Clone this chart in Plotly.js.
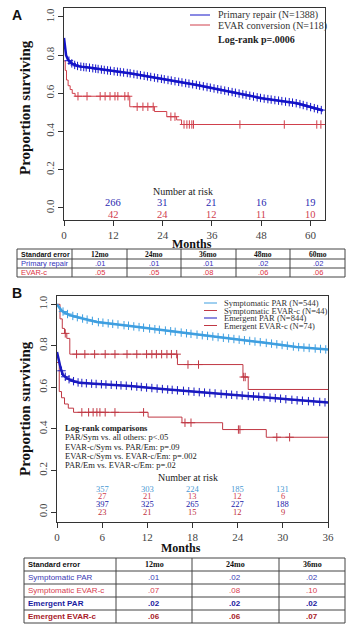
<!DOCTYPE html>
<html><head><meta charset="utf-8">
<script src="https://cdn.plot.ly/plotly-3.0.1.min.js"></script>
<style>html,body{margin:0;padding:0;background:#fff}</style>
</head><body><div id="chart" style="width:358px;height:631px"></div>
<script>
// ---------- Panel A data ----------
const aPrimaryT = [0, 0.2, 0.5, 1, 2, 3, 4, 6, 10, 16, 24, 32, 40.4, 48, 56.7, 63];
const aPrimaryS = [0.89, 0.84, 0.80, 0.775, 0.755, 0.745, 0.74, 0.735, 0.722, 0.705, 0.675, 0.645, 0.609, 0.575, 0.548, 0.51];
const aPrimaryCens = [1.2,1.9,2.6,3.3,4.1,4.8,5.4,6.2,7.0,7.7,8.3,9.1,9.8,10.6,11.3,12.2,13.0,13.7,14.5,15.4,16.1,17.0,17.8,18.6,19.5,20.3,21.1,22.0,22.8,23.7,24.4,25.3,26.1,27.0,27.9,28.7,29.6,30.4,31.3,32.2,33.0,33.9,34.8,35.6,36.5,37.4,38.2,39.1,40.0,40.9,41.7,42.6,43.5,44.3,45.2,46.1,47.0,47.8,48.7,49.6,50.4,51.3,52.2,53.0,53.9,54.8,55.6,56.5,57.4,58.2,59.1,60.0,60.9,61.7,62.6];
const aEvarT = [0, 0.3, 0.6, 1.0, 1.5, 2.0, 2.7, 16, 22, 25, 27.4, 28.6, 63];
const aEvarS = [0.77, 0.72, 0.67, 0.64, 0.62, 0.60, 0.585, 0.53, 0.505, 0.478, 0.461, 0.437, 0.437];
const aEvarCens = [3.4,5.6,8.8,10,11.2,12.4,13.1,14.8,15.6,17.8,19.2,20.4,21.7,26,27,29.2,29.9,30.5,31.1,31.5,42.8,53.6,61.5,62.5];
const aRiskMonths = [12,24,36,48,60];
const aRiskPrimary = [266,31,21,16,19];
const aRiskEvar = [42,24,12,11,10];
const aTicksX = [0,12,24,36,48,60];
const yTicks = [0,0.2,0.4,0.6,0.8,1.0];
const yTickText = ["0.0","0.2","0.4","0.6","0.8","1.0"];

// ---------- Panel B data ----------
const bSymParT = [0, 0.3, 0.6, 1, 1.7, 3, 5.3, 9.7, 14.1, 18.6, 23, 27.4, 31.8, 36];
const bSymParS = [1.0, 0.985, 0.97, 0.96, 0.948, 0.935, 0.915, 0.896, 0.875, 0.854, 0.835, 0.816, 0.795, 0.782];
const bSymParCens = [0.8,1.4,2.1,2.7,3.4,4.0,4.7,5.5,6.1,6.8,7.4,8.1,8.9,9.5,10.2,10.9,11.5,12.3,13.0,13.6,14.4,15.1,15.7,16.5,17.2,17.8,18.6,19.3,20.0,20.7,21.4,22.1,22.8,23.5,24.2,24.9,25.6,26.3,27.0,27.8,28.5,29.2,29.9,30.6,31.4,32.1,32.8,33.5,34.3,35.0,35.7];
const bSymEvarT = [0, 0.4, 0.7, 1.0, 1.3, 1.7, 16, 24.7, 25.4, 36];
const bSymEvarS = [1.0, 0.93, 0.884, 0.86, 0.836, 0.76, 0.71, 0.65, 0.59, 0.59];
const bSymEvarCens = [1.1,2.6,3.7,5.0,6.4,7.7,9.3,10.6,11.9,12.6,13.2,13.9,14.6,15.2,15.9,17.4,18.8,24.8,25.0];
const bEmParT = [0, 0.2, 0.5, 0.8, 1.3, 2, 3, 5, 7.5, 9.7, 14, 18.6, 23, 27.4, 31.8, 36];
const bEmParS = [0.77, 0.73, 0.69, 0.66, 0.645, 0.632, 0.622, 0.617, 0.612, 0.607, 0.592, 0.578, 0.565, 0.554, 0.538, 0.527];
const bEmParCens = [0.6,1.1,1.6,2.2,2.8,3.3,3.9,4.6,5.2,5.9,6.5,7.2,7.9,8.5,9.2,9.9,10.6,11.2,11.9,12.6,13.3,14.0,14.7,15.3,16.0,16.8,17.5,18.2,18.9,19.6,20.3,21.0,21.8,22.5,23.2,23.9,24.6,25.4,26.1,26.8,27.5,28.3,29.0,29.7,30.4,31.2,31.9,32.6,33.4,34.1,34.9,35.6];
const bEmEvarT = [0, 0.3, 0.6, 1.0, 1.5, 2.2, 12.1, 16.6, 22, 27.8, 36];
const bEmEvarS = [0.72, 0.58, 0.55, 0.52, 0.50, 0.48, 0.457, 0.43, 0.397, 0.36, 0.36];
const bEmEvarCens = [3.3,4.2,4.8,5.3,5.7,6.4,7.7,11.5,17.0,17.8,24.1,24.3,29.2,30.9];
const bRiskMonths = [6,12,18,24,30];
const bRiskSymPar = [357,303,224,185,131];
const bRiskSymEvar = [27,21,13,12,6];
const bRiskEmPar = [397,325,265,227,188];
const bRiskEmEvar = [23,21,15,12,9];
const bTicksX = [0,6,12,18,24,30,36];

// ---------- Tables ----------
const tableAHeader = ["Standard error","12mo","24mo","36mo","48mo","60mo"];
const tableARows = ["Primary repair","EVAR-c"];
const seAPrimary = [".01",".01",".01",".02",".02"];
const seAEvar = [".05",".05",".08",".06",".06"];
const tableBHeader = ["Standard error","12mo","24mo","36mo"];
const tableBRows = ["Symptomatic PAR","Symptomatic EVAR-c","Emergent PAR","Emergent EVAR-c"];
const seBSymPar = [".01",".02",".02"];
const seBSymEvar = [".07",".08",".10"];
const seBEmPar = [".02",".02",".02"];
const seBEmEvar = [".06",".06",".07"];

// ---------- styling ----------
const SERIF = "Liberation Serif, Times New Roman, serif";
const SANS = "Liberation Sans, Arial, sans-serif";
const W = 358, H = 631;
const px = v => v / W;
const py = v => 1 - v / H;
const cBlue = "#1414c8", cRed = "#d0404c", cLight = "#3f9fe0", cDark = "#1a1ac0", cRed2 = "#c03844";

function onCurve(ts, ss, t, step) {
  let i = 0;
  while (i < ts.length - 1 && ts[i + 1] <= t) i++;
  if (step || i === ts.length - 1) return ss[i];
  const f = (t - ts[i]) / (ts[i + 1] - ts[i]);
  return ss[i] + f * (ss[i + 1] - ss[i]);
}
function curve(ts, ss, color, xa, ya, shape, width) {
  return {x: ts, y: ss, xaxis: xa, yaxis: ya, type: "scatter", mode: "lines",
    line: {color: color, width: width, shape: shape}, hoverinfo: "skip", showlegend: false};
}
function cens(cs, ts, ss, color, xa, ya, step, size) {
  return {x: cs, y: cs.map(t => onCurve(ts, ss, t, step)), xaxis: xa, yaxis: ya, type: "scatter", mode: "markers",
    marker: {symbol: "cross-thin-open", size: size, color: color, line: {color: color, width: 1}},
    hoverinfo: "skip", showlegend: false};
}

const traces = [
  curve(aEvarT, aEvarS, cRed, "x", "y", "hv", 1),
  cens(aEvarCens, aEvarT, aEvarS, cRed, "x", "y", true, 6),
  curve(aPrimaryT, aPrimaryS, cBlue, "x", "y", "linear", 2.5),
  cens(aPrimaryCens, aPrimaryT, aPrimaryS, cBlue, "x", "y", false, 6),
  curve(bSymEvarT, bSymEvarS, cRed2, "x2", "y2", "hv", 1),
  cens(bSymEvarCens, bSymEvarT, bSymEvarS, cRed2, "x2", "y2", true, 6),
  curve(bEmEvarT, bEmEvarS, cRed2, "x2", "y2", "hv", 1),
  cens(bEmEvarCens, bEmEvarT, bEmEvarS, cRed2, "x2", "y2", true, 6),
  curve(bSymParT, bSymParS, cLight, "x2", "y2", "linear", 2.5),
  cens(bSymParCens, bSymParT, bSymParS, cLight, "x2", "y2", false, 6),
  curve(bEmParT, bEmParS, cDark, "x2", "y2", "linear", 2.5),
  cens(bEmParCens, bEmParT, bEmParS, cDark, "x2", "y2", false, 6)
];

const ann = [];
const shapes = [];
const tx = (x, y, text, o) => ann.push(Object.assign({x: x, y: y, xref: "paper", yref: "paper", text: text, showarrow: false,
  xanchor: "center", yanchor: "middle", font: {family: SERIF, size: 10, color: "#222"}}, o || {}));
const seg = (x0,x1,y0,y1,color,w) => shapes.push({type: "line", xref: "paper", yref: "paper", x0: px(x0), x1: px(x1), y0: py(y0), y1: py(y1), line: {color: color, width: w || 1}});

tx(px(17), py(15), "<b>A</b>", {font: {family: SANS, size: 14, color: "#111"}});
tx(px(17), py(293), "<b>B</b>", {font: {family: SANS, size: 14, color: "#111"}});
tx(px(25), py(108), "<b>Proportion surviving</b>", {textangle: -90, font: {family: SERIF, size: 15, color: "#111"}});
tx(px(25), py(409), "<b>Proportion surviving</b>", {textangle: -90, font: {family: SERIF, size: 15, color: "#111"}});
tx(px(192), py(244), "<b>Months</b>", {font: {family: SERIF, size: 12, color: "#111"}});
tx(px(181), py(548), "<b>Months</b>", {font: {family: SERIF, size: 12, color: "#111"}});
// legend A
tx(px(216), py(15), "Primary repair (N=1388)", {xanchor: "left", font: {family: SERIF, size: 10, color: "#333"}});
tx(px(216), py(26), "EVAR conversion (N=118)", {xanchor: "left", font: {family: SERIF, size: 10, color: "#333"}});
tx(px(216), py(39), "<b>Log-rank p=.0006</b>", {xanchor: "left", font: {family: SERIF, size: 10, color: "#222"}});
seg(190, 210, 15, 15, cBlue); seg(190, 210, 25, 25, cRed);
// legend B
const legB = ["Symptomatic PAR (N=544)","Symptomatic EVAR-c (N=44)","Emergent PAR (N=844)","Emergent EVAR-c (N=74)"];
const legBy = [303, 310.5, 318, 325.5];
const legBc = [cLight, cRed2, cDark, cRed2];
legB.forEach((t,i)=> { tx(px(222), py(legBy[i]), t, {xanchor: "left", font: {family: SERIF, size: 8.5, color: "#333"}}); seg(204, 217, legBy[i], legBy[i], legBc[i]); });
// log-rank comparisons
const lr = ["<b>Log-rank comparisons</b>","PAR/Sym vs. all others: p<.05","EVAR-c/Sym vs. PAR/Em: p=.09","EVAR-c/Sym vs. EVAR-c/Em: p=.002","PAR/Em vs. EVAR-c/Em: p=.02"];
const lrY = [428, 437, 446.5, 455.5, 465];
lr.forEach((t,i)=> tx(px(63), py(lrY[i]), t, {xanchor: "left", font: {family: SERIF, size: 8.5, color: "#222"}}));
// number at risk
tx(px(183), py(191), "Number at risk", {font: {family: SERIF, size: 10, color: "#222"}});
tx(px(188), py(477), "Number at risk", {font: {family: SERIF, size: 10, color: "#222"}});
const riskRow = (months, vals, yPix, color, xr, size) => months.forEach((m,i)=> ann.push({
  x: m, y: py(yPix), xref: xr, yref: "paper", text: String(vals[i]), showarrow: false, xanchor: "center", yanchor: "middle",
  font: {family: SERIF, size: size, color: color}}));
riskRow(aRiskMonths, aRiskPrimary, 203, "#2a2ab0", "x", 10.5);
riskRow(aRiskMonths, aRiskEvar, 214, "#d04050", "x", 10.5);
riskRow(bRiskMonths, bRiskSymPar, 489, "#4a9ad4", "x2", 8.5);
riskRow(bRiskMonths, bRiskSymEvar, 496.5, "#d04050", "x2", 8.5);
riskRow(bRiskMonths, bRiskEmPar, 504, "#2020a8", "x2", 8.5);
riskRow(bRiskMonths, bRiskEmEvar, 512, "#c03040", "x2", 8.5);

// ---------- tables drawn as shapes + text ----------
function drawTable(colX, rowY, header, rowLabels, rowValues, rowColors, boldRows, fs) {
  const x0 = colX[0], x1 = colX[colX.length-1], y0 = rowY[0], y1 = rowY[rowY.length-1];
  shapes.push({type: "rect", xref: "paper", yref: "paper", x0: px(x0), x1: px(x1), y0: py(y1), y1: py(y0), line: {color: "#444", width: 1}, fillcolor: "rgba(0,0,0,0)"});
  rowY.slice(1, -1).forEach(y => seg(x0, x1, y, y, "#444"));
  colX.slice(1, -1).forEach(x => seg(x, x, y0, y1, "#444"));
  header.forEach((h, c) => {
    const cy = (rowY[0] + rowY[1]) / 2;
    if (c === 0) tx(px(x0 + 2), py(cy), "<b>" + h + "</b>", {xanchor: "left", font: {family: SANS, size: fs - 0.5, color: "#111"}});
    else tx(px((colX[c] + colX[c+1]) / 2), py(cy), "<b>" + h + "</b>", {font: {family: SERIF, size: fs, color: "#111"}});
  });
  rowLabels.forEach((lab, r) => {
    const cy = (rowY[r+1] + rowY[r+2]) / 2;
    const b = boldRows[r];
    const f = s => b ? "<b>" + s + "</b>" : s;
    tx(px(x0 + 2), py(cy), f(lab), {xanchor: "left", font: {family: SANS, size: fs, color: rowColors[r]}});
    rowValues[r].forEach((v, c) => tx(px((colX[c+1] + colX[c+2]) / 2), py(cy), f(v), {font: {family: SANS, size: fs, color: rowColors[r]}}));
  });
}
drawTable([17, 72, 127, 181, 236, 290, 345], [249, 259, 268, 277], tableAHeader, tableARows,
  [seAPrimary, seAEvar], ["#3333bb", "#dd3344"], [false, false], 7.5);
drawTable([24, 116, 192, 279, 345], [558, 571, 584, 597, 610, 623], tableBHeader, tableBRows,
  [seBSymPar, seBSymEvar, seBEmPar, seBEmEvar], ["#3a3ab4", "#d84050", "#1a1aa0", "#a82028"], [false, false, true, true], 8);

const axisBase = {showline: true, mirror: true, linecolor: "#333", linewidth: 1, ticks: "outside", ticklen: 5, tickcolor: "#333",
  showgrid: false, zeroline: false, tickfont: {family: SERIF, size: 11, color: "#444"}, fixedrange: true, automargin: false};
const layout = {
  width: W, height: H, margin: {l: 0, r: 0, t: 0, b: 0}, paper_bgcolor: "#fff", plot_bgcolor: "#fff", showlegend: false,
  xaxis: Object.assign({}, axisBase, {domain: [px(64), px(325)], range: [0, 63.5], tickvals: aTicksX, anchor: "y"}),
  yaxis: Object.assign({}, axisBase, {domain: [py(220), py(8)], range: [-0.063, 1.047], tickvals: yTicks, ticktext: yTickText, tickangle: -90, anchor: "x"}),
  xaxis2: Object.assign({}, axisBase, {domain: [px(57), px(328)], range: [0, 36], tickvals: bTicksX, anchor: "y2"}),
  yaxis2: Object.assign({}, axisBase, {domain: [py(522), py(296)], range: [-0.048, 1.04], tickvals: yTicks, ticktext: yTickText, tickangle: -90, anchor: "x2"}),
  annotations: ann, shapes: shapes
};
Plotly.newPlot("chart", traces, layout, {displayModeBar: false, staticPlot: true});
</script></body></html>
